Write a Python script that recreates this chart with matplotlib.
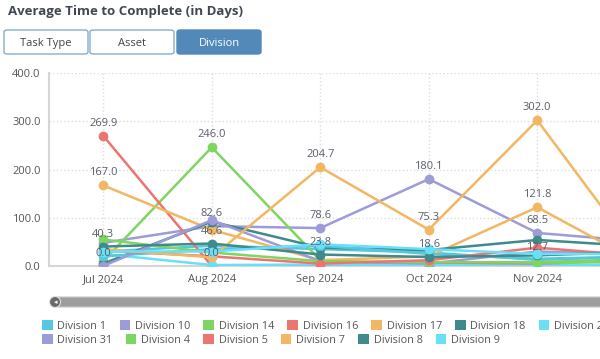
import matplotlib.pyplot as plt
from matplotlib.patches import FancyBboxPatch, Patch, Circle

plt.rcParams['font.family'] = ['Open Sans', 'DejaVu Sans']

months = ['Jul 2024', 'Aug 2024', 'Sep 2024', 'Oct 2024', 'Nov 2024', 'Dec 2024']

# average days per division and month (Dec mostly estimated)
div_1 = [30.0, 42.0, 35.0, 28.0, 12.7, 20.0]
div_10 = [48.0, 82.6, 78.6, 180.1, 68.5, 50.0]
div_14 = [10.0, 246.0, 12.0, 0.0, 5.0, 10.0]
div_16 = [269.9, 0.0, 0.0, 5.0, 2.0, 0.0]
div_17 = [167.0, 75.0, 12.0, 20.0, 121.8, 0.0]
div_18 = [5.0, 92.0, 38.0, 33.0, 54.0, 40.0]
div_2 = [25.0, 2.0, 3.0, 2.0, 0.0, 5.0]
div_3 = [20.0, 35.0, 42.0, 25.0, 15.0, 20.0]
div_31 = [0.0, 95.0, 10.0, 5.0, 30.0, 25.0]
div_4 = [55.0, 28.0, 10.0, 8.0, 8.0, 15.0]
div_5 = [32.0, 20.0, 5.0, 12.0, 38.0, 20.0]
div_7 = [35.0, 18.0, 204.7, 75.3, 302.0, 0.0]
div_8 = [40.3, 46.6, 23.8, 18.6, 22.0, 30.0]
div_9 = [30.0, 30.0, 45.0, 35.0, 25.0, 25.0]

names = ['Division 1', 'Division 10', 'Division 14', 'Division 16', 'Division 17',
         'Division 18', 'Division 2', 'Division 3', 'Division 31', 'Division 4',
         'Division 5', 'Division 7', 'Division 8', 'Division 9']
series = [div_1, div_10, div_14, div_16, div_17, div_18, div_2, div_3,
          div_31, div_4, div_5, div_7, div_8, div_9]

# points that carry a value label: (division, month index)
labelled = [('Division 16', 0), ('Division 17', 0), ('Division 8', 0), ('Division 31', 0),
            ('Division 14', 1), ('Division 10', 1), ('Division 8', 1), ('Division 16', 1),
            ('Division 7', 2), ('Division 10', 2), ('Division 8', 2),
            ('Division 10', 3), ('Division 7', 3), ('Division 8', 3),
            ('Division 7', 4), ('Division 17', 4), ('Division 10', 4), ('Division 1', 4)]

palette = ['#55c7e0', '#9d9bd8', '#7fd562', '#ec7570', '#f3b662', '#3f8a8a', '#68e1f8']
colors = [palette[i % len(palette)] for i in range(len(names))]

W, H = 600, 359
fig = plt.figure(figsize=(6, 3.59), dpi=100)

# plot area runs off the right edge like the original screenshot
ax = fig.add_axes([49 / W, 93 / H, 651 / W, 193 / H])
x = list(range(len(months)))
for name, vals, c in zip(names, series, colors):
    ax.plot(x, vals, color=c, lw=1.8, marker='o', ms=6, mec=c, zorder=3)

for name, i in labelled:
    v = series[names.index(name)][i]
    ax.annotate('{:.1f}'.format(v), (i, v), xytext=(0, 5), textcoords='offset points',
                ha='center', va='bottom', fontsize=8, color='#5a5e6b', zorder=5)

ax.set_xlim(-0.5, len(months) - 0.5)
ax.set_ylim(0, 400)
ax.set_yticks([0, 100, 200, 300, 400])
ax.set_yticklabels(['{:.1f}'.format(t) for t in [0, 100, 200, 300, 400]])
ax.set_xticks(x)
ax.set_xticklabels(months)
ax.get_xticklabels()[-1].set_visible(False)  # off screen in the original
ax.tick_params(length=0, labelsize=8, labelcolor='#555555', pad=6)
ax.grid(True, color='#dddddd', linestyle=':', linewidth=1)
ax.set_axisbelow(True)
for s in ['top', 'right']:
    ax.spines[s].set_visible(False)
for s in ['left', 'bottom']:
    ax.spines[s].set_color('#d6d6d6')
    ax.spines[s].set_linewidth(1.5)

# title
fig.text(8 / W, 1 - 12 / H, 'Average Time to Complete (in Days)', fontsize=9.5,
         fontweight='bold', color='#414753', va='center', ha='left')

# toggle buttons
buttons = [('Task Type', 4, False), ('Asset', 90, False), ('Division', 177, True)]
for label, bx, active in buttons:
    box = FancyBboxPatch((bx / W, 1 - 54 / H), 84 / W, 24 / H,
                         boxstyle='round,pad=0,rounding_size=0.006',
                         transform=fig.transFigure,
                         facecolor='#5289b8' if active else 'white',
                         edgecolor='#5289b8' if active else '#86acd3', lw=1)
    fig.patches.append(box)
    fig.text((bx + 42) / W, 1 - 42 / H, label, fontsize=8,
             color='white' if active else '#444444', ha='center', va='center_baseline')

# scrollbar under the axis
bar = FancyBboxPatch((52 / W, 1 - 307 / H), 600 / W, 10 / H,
                     boxstyle='round,pad=0,rounding_size=0.008',
                     transform=fig.transFigure, facecolor='#9e9e9e',
                     edgecolor='#c8c8c8', lw=0.8)
fig.patches.append(bar)
knob = Circle((55, H - 302), 5.5, transform=None, facecolor='#6a6a6a',
              edgecolor='#e0e0e0', lw=0.8)
fig.patches.append(knob)
fig.text(55.5 / W, 1 - 302 / H, '\u25c2', fontsize=5, color='white',
         ha='center', va='center', family=['DejaVu Sans'])

# legend in two rows
rows = [names[:8], names[8:]]
row_y = [326, 340]
for row, yy in zip(rows, row_y):
    handles = [Patch(facecolor=colors[names.index(n)], edgecolor='none') for n in row]
    fig.legend(handles, row, loc='center left', bbox_to_anchor=(42 / W, 1 - yy / H),
               ncol=len(row), frameon=False, fontsize=7.8, labelcolor='#555555',
               handlelength=0.98, handleheight=0.98, handletextpad=0.45,
               columnspacing=1.2, borderpad=0, borderaxespad=0)

fig.savefig('out.png', dpi=100)
